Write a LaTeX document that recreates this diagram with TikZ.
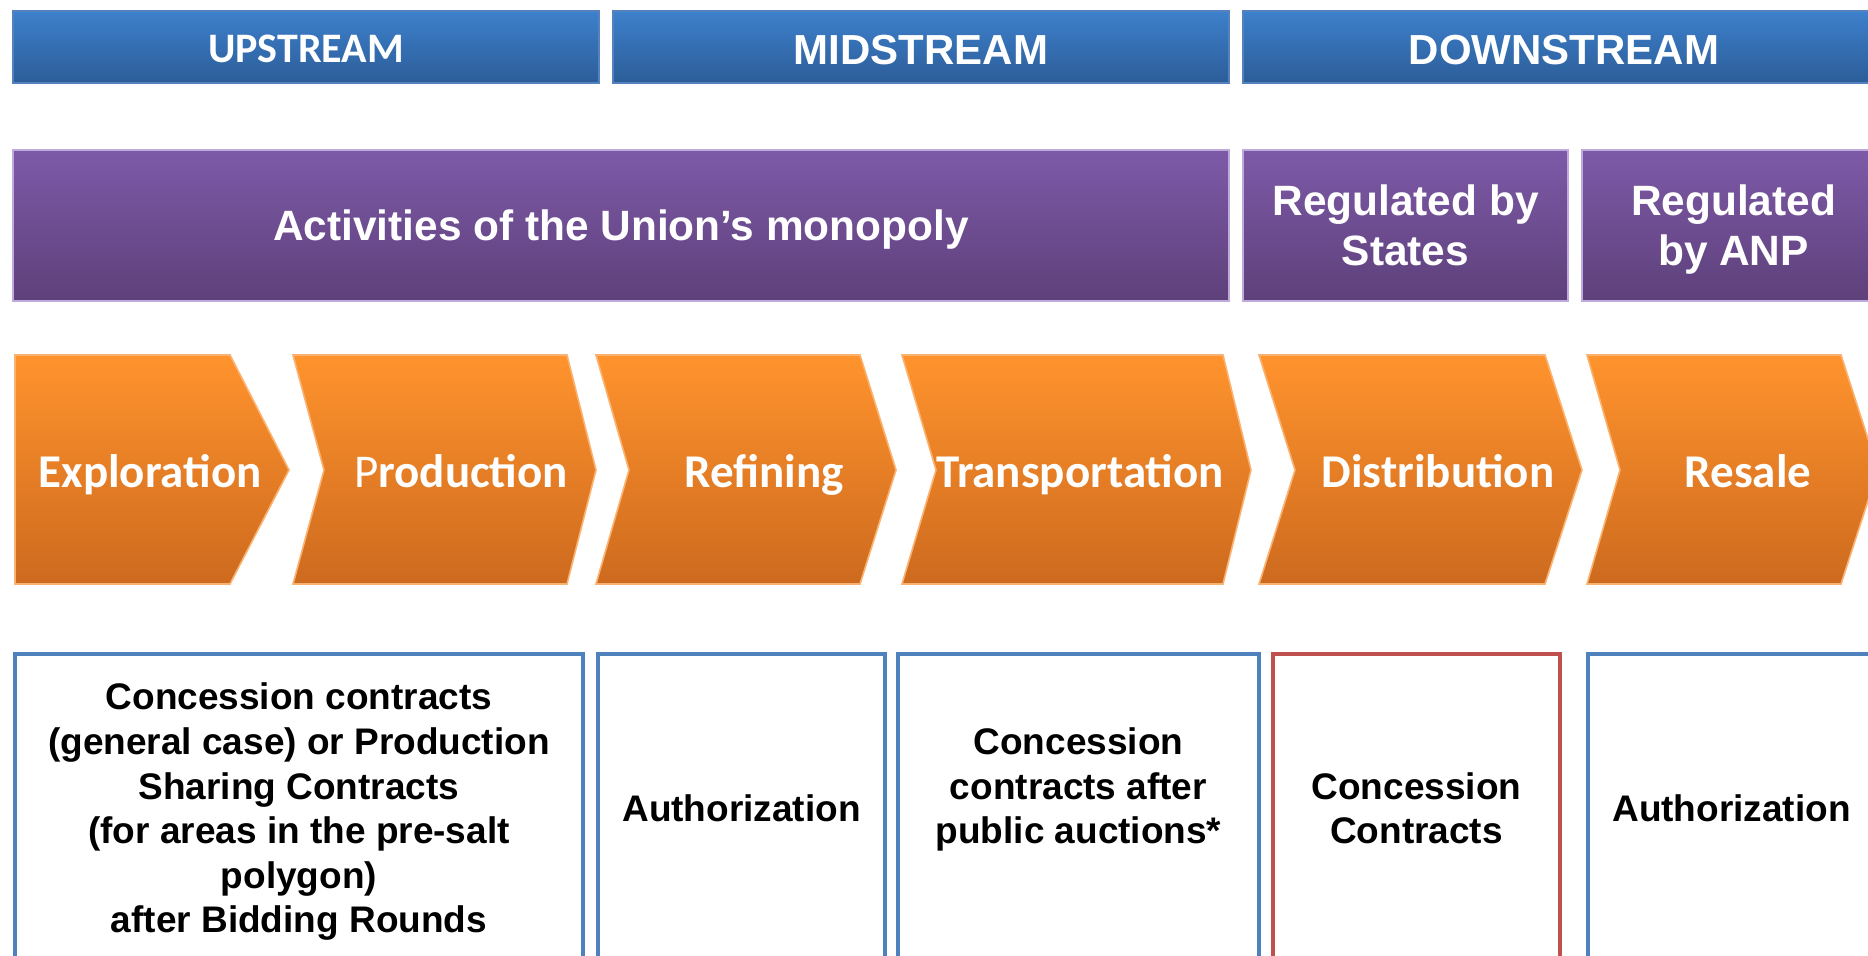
\documentclass[tikz,border=0pt]{standalone}
\usepackage{fontspec}
\setmainfont{Liberation Sans}
\newfontfamily\calib{Carlito}
\definecolor{bluetop}{RGB}{61,128,204}
\definecolor{bluebot}{RGB}{44,93,152}
\definecolor{blueedge}{RGB}{84,130,190}
\definecolor{purtop}{RGB}{125,90,168}
\definecolor{purbot}{RGB}{94,64,122}
\definecolor{puredge}{RGB}{190,170,220}
\definecolor{ortop}{RGB}{255,147,45}
\definecolor{orbot}{RGB}{205,106,30}
\definecolor{oredge}{RGB}{250,178,112}
\definecolor{boxblue}{RGB}{79,129,189}
\definecolor{boxred}{RGB}{192,80,77}
\tikzset{
  bluebar/.style={rectangle, top color=bluetop, bottom color=bluebot, draw=blueedge, line width=1pt,
    minimum height=36pt, inner sep=0pt, text=white, text depth=0pt,
    font=\fontsize{21pt}{25pt}\selectfont\bfseries},
  purbar/.style={rectangle, top color=purtop, bottom color=purbot, draw=puredge, line width=1pt,
    minimum height=75.5pt, inner sep=0pt, text=white, align=center, text depth=0pt,
    font=\fontsize{21.2pt}{25pt}\selectfont\bfseries},
  chev/.style={top color=ortop, bottom color=orbot, draw=oredge, line width=0.8pt},
  chevtext/.style={text=white, inner sep=0pt, anchor=base, font=\calib\fontsize{23.5pt}{28pt}\selectfont\bfseries},
  rulebox/.style={rectangle, draw=boxblue, line width=2pt, fill=white, minimum height=154pt, inner sep=0pt,
    align=center, text depth=0pt, font=\fontsize{18.5pt}{22.3pt}\selectfont\bfseries},
  redbox/.style={rulebox, draw=boxred}
}
\begin{document}
\begin{tikzpicture}[x=0.5pt,y=-0.5pt]
\useasboundingbox (0,0) rectangle (1868,956);
\clip (0,0) rectangle (1868,956);
% top row
\node[bluebar, minimum width=293pt, text height=16.0pt] (up) at (306,47) {\calib\fontsize{21pt}{25pt}\selectfont\bfseries UPSTREAM};
\node[bluebar, minimum width=308pt, text height=17.4pt] (mid) at (921,47) {MIDSTREAM};
\node[bluebar, minimum width=321pt, text height=17.4pt] (down) at (1564,47) {DOWNSTREAM};
% purple row
\node[purbar, minimum width=608pt] (union) at (621,225.5) {Activities of the Union’s monopoly};
\node[purbar, minimum width=162.5pt] (states) at (1405.5,225.5) {Regulated by\\States};
\node[purbar, minimum width=151.5pt] (anp) at (1733.5,225.5) {Regulated\\by ANP};
% chevrons
\path[chev] (15,355) -- (230,355) -- (289,470) -- (230,584) -- (15,584) -- cycle;
\path[chev] (293,355) -- (567,355) -- (596,470) -- (567,584) -- (293,584) -- (324,470) -- cycle;
\path[chev] (596,355) -- (860,355) -- (896,470) -- (860,584) -- (596,584) -- (629,470) -- cycle;
\path[chev] (902,355) -- (1223,355) -- (1251,470) -- (1223,584) -- (902,584) -- (936,470) -- cycle;
\path[chev] (1259,355) -- (1545,355) -- (1582,470) -- (1545,584) -- (1259,584) -- (1295,470) -- cycle;
\path[chev] (1587,355) -- (1841,355) -- (1878,470) -- (1841,584) -- (1587,584) -- (1620,470) -- cycle;
\node[chevtext] (expl) at (150,488) {Exploration};
\node[chevtext] (prod) at (461,488) {{\mdseries P}roduction};
\node[chevtext] (refi) at (764,488) {Refining};
\node[chevtext] (tran) at (1080,488) {Transportation};
\node[chevtext] (dist) at (1438,488) {Distribution};
\node[chevtext] (resa) at (1748,488) {Resale};
% bottom boxes
\node[rulebox, minimum width=284pt] (b1) at (299,808) {Concession contracts\\(general case) or Production\\Sharing Contracts\\(for areas in the pre-salt\\polygon)\\after Bidding Rounds};
\node[rulebox, minimum width=143.5pt] (b2) at (741.5,808) {Authorization};
\node[rulebox, minimum width=180.5pt] (b3) at (1078.5,808) {Concession\\contracts after\\public auctions*\\\mbox{}};
\node[redbox, minimum width=143.5pt] (b4) at (1416.5,808) {Concession\\Contracts};
\node[rulebox, minimum width=143.5pt] (b5) at (1731.5,808) {Authorization};
\end{tikzpicture}
\end{document}
